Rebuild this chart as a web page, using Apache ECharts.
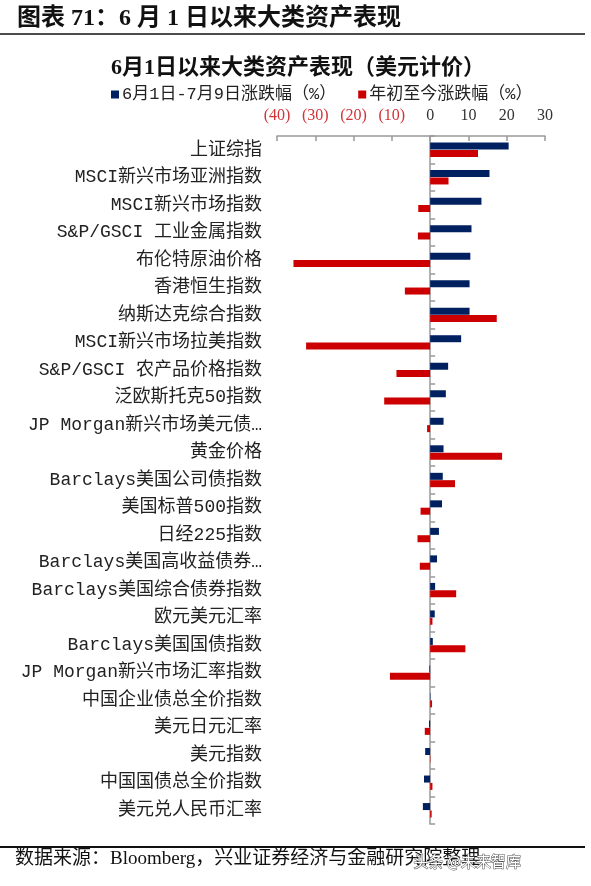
<!DOCTYPE html>
<html>
<head>
<meta charset="utf-8">
<script src="https://cdn.jsdelivr.net/npm/echarts@6/dist/echarts.min.js"></script>
<style>
html,body{margin:0;padding:0;background:#fff;}
#c{width:591px;height:886px;}
</style>
</head>
<body>
<div id="c"></div>
<script>
var categories = [
  '上证综指','MSCI新兴市场亚洲指数','MSCI新兴市场指数','S&P/GSCI 工业金属指数','布伦特原油价格',
  '香港恒生指数','纳斯达克综合指数','MSCI新兴市场拉美指数','S&P/GSCI 农产品价格指数','泛欧斯托克50指数',
  'JP Morgan新兴市场美元债…','黄金价格','Barclays美国公司债指数','美国标普500指数','日经225指数',
  'Barclays美国高收益债券…','Barclays美国综合债券指数','欧元美元汇率','Barclays美国国债指数','JP Morgan新兴市场汇率指数',
  '中国企业债总全价指数','美元日元汇率','美元指数','中国国债总全价指数','美元兑人民币汇率'
];
var sinceJune = [20.5, 15.5, 13.4, 10.8, 10.5, 10.3, 10.3, 8.1, 4.7, 4.1, 3.5, 3.5, 3.3, 3.1, 2.3, 1.8, 1.3, 1.2, 0.7, -0.2, 0.1, -0.3, -1.3, -1.6, -1.9];
var ytd = [12.5, 4.8, -3.1, -3.2, -35.7, -6.6, 17.4, -32.4, -8.8, -12.0, -0.8, 18.8, 6.5, -2.5, -3.3, -2.7, 6.8, 0.6, 9.2, -10.5, 0.5, -1.4, 0.1, 0.6, 0.4];
var seriesNames = ['6月1日-7月9日涨跌幅（%）', '年初至今涨跌幅（%）'];

var labelFont = "'Liberation Mono','Noto Sans CJK SC',monospace";
var serifFont = "'Liberation Serif','Noto Sans CJK SC',serif";

var chart = echarts.init(document.getElementById('c'), null, {renderer: 'canvas'});
chart.setOption({
  backgroundColor: '#fff',
  animation: false,
  title: {
    text: '6月1日以来大类资产表现（美元计价）',
    left: 106, top: 52,
    textStyle: {fontFamily: serifFont, fontSize: 22, fontWeight: 'bold', color: '#111'}
  },
  legend: {
    top: 81, left: 106,
    itemWidth: 8, itemHeight: 8, itemGap: 22,
    icon: 'rect',
    data: seriesNames,
    textStyle: {fontFamily: labelFont, fontSize: 17, color: '#222', padding: [0,0,0,-2]}
  },
  grid: {left: 277, right: 46, top: 136, bottom: 62, containLabel: false},
  xAxis: {
    type: 'value', position: 'top', min: -40, max: 30, interval: 10,
    axisLine: {show: true, lineStyle: {color: '#999', width: 1.5}},
    axisTick: {show: true, inside: true, length: 5, lineStyle: {color: '#999', width: 1.5}},
    splitLine: {show: false},
    axisLabel: {
      margin: 12, fontFamily: serifFont, fontSize: 16,
      formatter: function (v) { return v < 0 ? '(' + Math.abs(v) + ')' : String(v); },
      color: function (v) { return v < 0 ? '#d0343a' : '#333'; }
    }
  },
  yAxis: [{
    type: 'category', data: categories, inverse: true, position: 'left',
    axisLine: {show: false, onZero: false},
    axisTick: {show: false},
    axisLabel: {margin: 15, fontFamily: labelFont, fontSize: 18, color: '#222'}
  }, {
    type: 'category', data: categories, inverse: true, position: 'left',
    axisLine: {show: true, onZero: true, lineStyle: {color: '#999', width: 1.5}},
    axisTick: {show: true, inside: true, length: 5, lineStyle: {color: '#999', width: 1.5}},
    axisLabel: {show: false}
  }],
  series: [{
    name: seriesNames[0], type: 'bar', data: sinceJune, yAxisIndex: 0,
    barWidth: 7, barGap: '5%', itemStyle: {color: '#002060'}
  }, {
    name: seriesNames[1], type: 'bar', data: ytd, yAxisIndex: 0,
    barWidth: 7, barGap: '5%', itemStyle: {color: '#cc0000'}
  }],
  graphic: [
    {type: 'text', left: 17, top: 7, style: {text: '图表 71：6 月 1 日以来大类资产表现', font: 'bold 24px ' + serifFont, fill: '#111'}},
    {type: 'line', shape: {x1: 0, y1: 34, x2: 585, y2: 34}, style: {stroke: '#111', lineWidth: 1.5}},
    {type: 'line', shape: {x1: 0, y1: 847, x2: 585, y2: 847}, style: {stroke: '#111', lineWidth: 2}},
    {type: 'text', left: 15, top: 850, style: {text: '数据来源：Bloomberg，兴业证券经济与金融研究院整理', font: '19px ' + serifFont, fill: '#111'}},
    {type: 'text', left: 413, top: 853, style: {text: '头条 @未来智库', font: '15px ' + "'Noto Sans CJK SC',sans-serif", fill: '#fff', stroke: '#555', lineWidth: 1}}
  ]
});
</script>
</body>
</html>
